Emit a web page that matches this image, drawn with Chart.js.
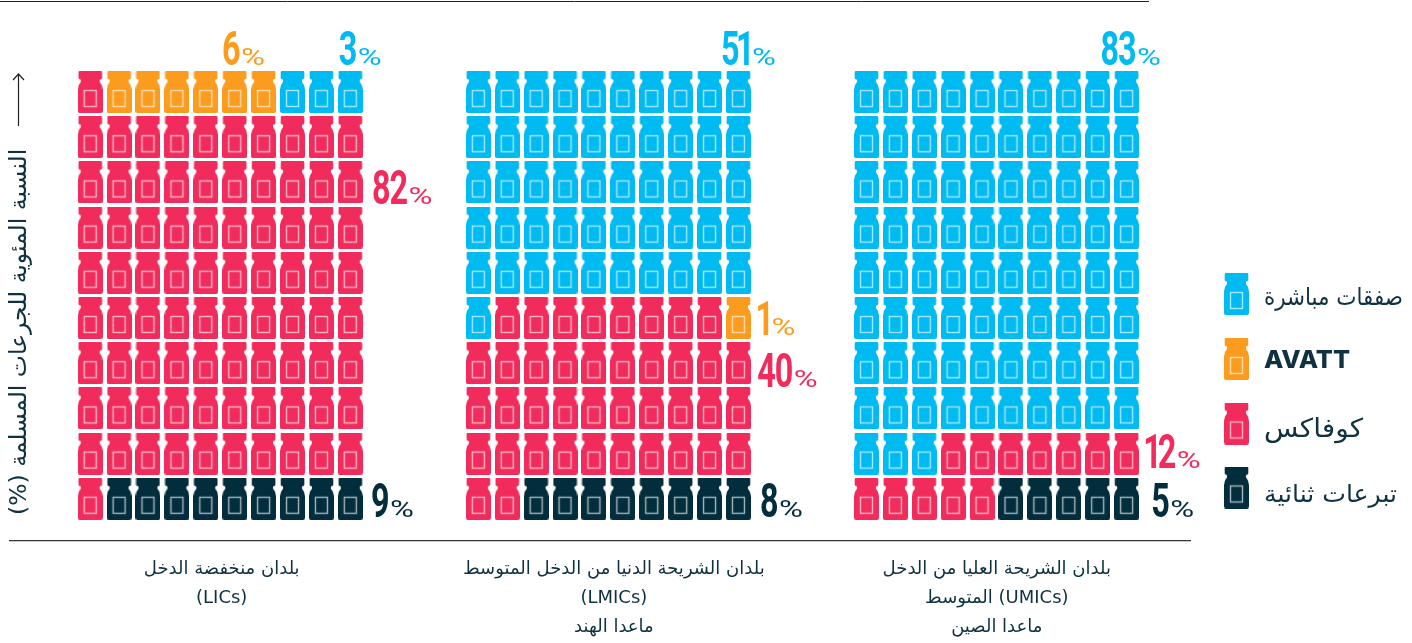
<!DOCTYPE html>
<html><head><meta charset="utf-8">
<script src="https://cdn.jsdelivr.net/npm/chart.js@4"></script>
<style>html,body{margin:0;padding:0;background:#fff}canvas{display:block;direction:rtl}</style>
</head><body><canvas id="c" width="1412" height="643"></canvas>
<script>
// ---- data ----
const channels = ['صفقات مباشرة', 'AVATT', 'كوفاكس', 'تبرعات ثنائية'];
const directDeals = [3, 51, 83];
const avatt       = [6, 1, 0];
const covax       = [82, 40, 12];
const bilateral   = [9, 8, 5];
// runs of vials in reading order: [channel index, number of vials]
const licsRuns  = [[2,1],[1,6],[0,3],[2,81],[3,9]];
const lmicsRuns = [[0,51],[2,8],[1,1],[2,32],[3,8]];
const umicsRuns = [[0,83],[2,12],[3,5]];
const groupLabels = [
  ['بلدان منخفضة الدخل', '(LICs)'],
  ['بلدان الشريحة الدنيا من الدخل المتوسط', '(LMICs)', 'ماعدا الهند'],
  ['بلدان الشريحة العليا من الدخل', '(UMICs) المتوسط', 'ماعدا الصين']
];
const axisTitle = 'النسبة المئوية للجرعات المسلمة (%)';

// ---- styles ----
const colours = ['#00BAF2', '#FB9C1E', '#F12B5C', '#022D3C'];
const textColour = '#0F3140';
const arabicFont = '"DejaVu Sans"';
const GROUP_STEP = 13.43, PER_ROW = 10;
const groupCols = [4.55, 18.12, 31.37];

function vial(colour) {
  const c = document.createElement('canvas'); c.width = 25; c.height = 42;
  const g = c.getContext('2d');
  g.fillStyle = colour;
  g.beginPath();
  g.moveTo(2, 0); g.lineTo(23, 0); g.quadraticCurveTo(24.3, 0, 24.3, 1.3);
  g.lineTo(24.3, 7); g.quadraticCurveTo(24.3, 8, 23, 8.2);
  g.lineTo(22.2, 8.4); g.quadraticCurveTo(21.4, 10, 22.2, 11.2);
  g.quadraticCurveTo(25, 14, 25, 18.5);
  g.lineTo(25, 40); g.quadraticCurveTo(25, 42, 23, 42);
  g.lineTo(2, 42); g.quadraticCurveTo(0, 42, 0, 40);
  g.lineTo(0, 18.5);
  g.quadraticCurveTo(0, 14, 2.8, 11.2);
  g.quadraticCurveTo(3.6, 10, 2.8, 8.4);
  g.lineTo(2, 8.2); g.quadraticCurveTo(0.7, 8, 0.7, 7);
  g.lineTo(0.7, 1.3); g.quadraticCurveTo(0.7, 0, 2, 0);
  g.closePath(); g.fill();
  g.strokeStyle = 'rgba(255,255,255,0.66)'; g.lineWidth = 1.4;
  g.strokeRect(6.5, 19.5, 12, 16);
  return c;
}
const vials = colours.map(vial);

// one dataset per channel, cells laid out from the runs
const pts = channels.map(() => []);
[licsRuns, lmicsRuns, umicsRuns].forEach((runs, g) => {
  let i = 0;
  runs.forEach(([ch, n]) => {
    for (let k = 0; k < n; k++, i++) {
      pts[ch].push({ x: g * GROUP_STEP + (i % PER_ROW), y: Math.floor(i / PER_ROW) });
    }
  });
});

// percentage labels: [group, value, colour, column anchor, row anchor]
const shareLabels = [
  [0, avatt[0], 1, 4.56, -0.6], [0, directDeals[0], 0, 8.6, -0.6],
  [0, covax[0], 2, 9.75, 2.48], [0, bilateral[0], 3, 9.72, 9.4],
  [1, directDeals[1], 0, 8.4, -0.6], [1, avatt[1], 1, 9.68, 5.38],
  [1, covax[1], 2, 9.65, 6.53], [1, bilateral[1], 3, 9.75, 9.4],
  [2, directDeals[2], 0, 8.1, -0.6], [2, covax[2], 2, 9.66, 8.32],
  [2, bilateral[2], 3, 9.85, 9.4]
];

function stretched(ctx, text, x, y, hs) {
  ctx.save(); ctx.translate(x, y); ctx.scale(hs, 1); ctx.fillText(text, 0, 0); ctx.restore();
}

const extras = {
  id: 'extras',
  afterDatasetsDraw(chart) {
    const ctx = chart.ctx, sx = chart.scales.x, sy = chart.scales.y;
    ctx.save();
    ctx.textBaseline = 'alphabetic';
    // top rule
    ctx.strokeStyle = '#222'; ctx.lineWidth = 1;
    ctx.beginPath(); ctx.moveTo(0, 1.5); ctx.lineTo(1149, 1.5); ctx.stroke();
    // percentages
    shareLabels.forEach(([g, v, c, col, row]) => {
      let x = sx.getPixelForValue(g * GROUP_STEP + col);
      const y = sy.getPixelForValue(row);
      ctx.fillStyle = colours[c]; ctx.textAlign = 'left';
      ctx.font = '700 49px Roboto';
      String(v).split('').forEach((d, i) => {
        const one = d === '1';
        stretched(ctx, d, one ? x - 2.5 : x, y, 0.66);
        x += one ? 12 : 17.5;
      });
      ctx.font = '400 24px Roboto';
      stretched(ctx, '%', x + 1.5, y, 1.36);
    });
    // axis title and arrow
    ctx.save();
    ctx.translate(26, 515); ctx.rotate(-Math.PI / 2);
    ctx.font = '23.5px ' + arabicFont; ctx.fillStyle = textColour; ctx.textAlign = 'left';
    ctx.fillText(axisTitle, 0, 0);
    ctx.restore();
    ctx.strokeStyle = '#222'; ctx.lineWidth = 1.2;
    ctx.beginPath(); ctx.moveTo(18.5, 126); ctx.lineTo(18.5, 74);
    ctx.moveTo(13, 80); ctx.lineTo(18.5, 74); ctx.lineTo(24, 80); ctx.stroke();
    // legend
    const rowsY = [294, 359, 423.5, 487.5];
    const legendSize = [24, 24, 26, 24];
    const legendWidth = [139, 86, 99, 133];
    const legendDrop = [11, 9, 13.5, 14];
    channels.forEach((name, i) => {
      ctx.drawImage(vials[i], 1224, rowsY[i] - 21);
      ctx.fillStyle = textColour; ctx.textAlign = 'left';
      ctx.font = name === 'AVATT' ? '800 24px Inter' : legendSize[i] + 'px ' + arabicFont;
      const hs = legendWidth[i] / ctx.measureText(name).width;
      stretched(ctx, name, 1264, rowsY[i] + legendDrop[i], hs);
    });
    ctx.restore();
  }
};

new Chart(document.getElementById('c'), {
  type: 'scatter',
  data: {
    datasets: channels.map((name, i) => ({
      label: name, data: pts[i], pointStyle: vials[i], pointRadius: 12, pointHoverRadius: 12,
      backgroundColor: colours[i], borderColor: colours[i]
    }))
  },
  plugins: [extras],
  options: {
    responsive: false, animation: false,
    layout: { autoPadding: false, padding: { left: 10, right: 222, top: 20, bottom: 0 } },
    plugins: { legend: { display: false }, tooltip: { enabled: false } },
    scales: {
      x: {
        type: 'linear', min: -2.775, max: 38.055,
        afterBuildTicks: s => { s.ticks = groupCols.map(v => ({ value: v })); },
        afterFit: s => { s.height = 102; s.paddingLeft = 0; s.paddingRight = 0; },
        grid: { display: false, drawTicks: false },
        border: { display: true, color: '#333', width: 1.3 },
        ticks: {
          autoSkip: false, maxRotation: 0, padding: 14,
          callback: (v, i) => groupLabels[i],
          color: textColour,
          font: { family: '"DejaVu Sans"', size: 18, lineHeight: 1.6 }
        }
      },
      y: { type: 'linear', reverse: true, min: -1.593, max: 9.934, display: false }
    }
  }
});
</script></body></html>
